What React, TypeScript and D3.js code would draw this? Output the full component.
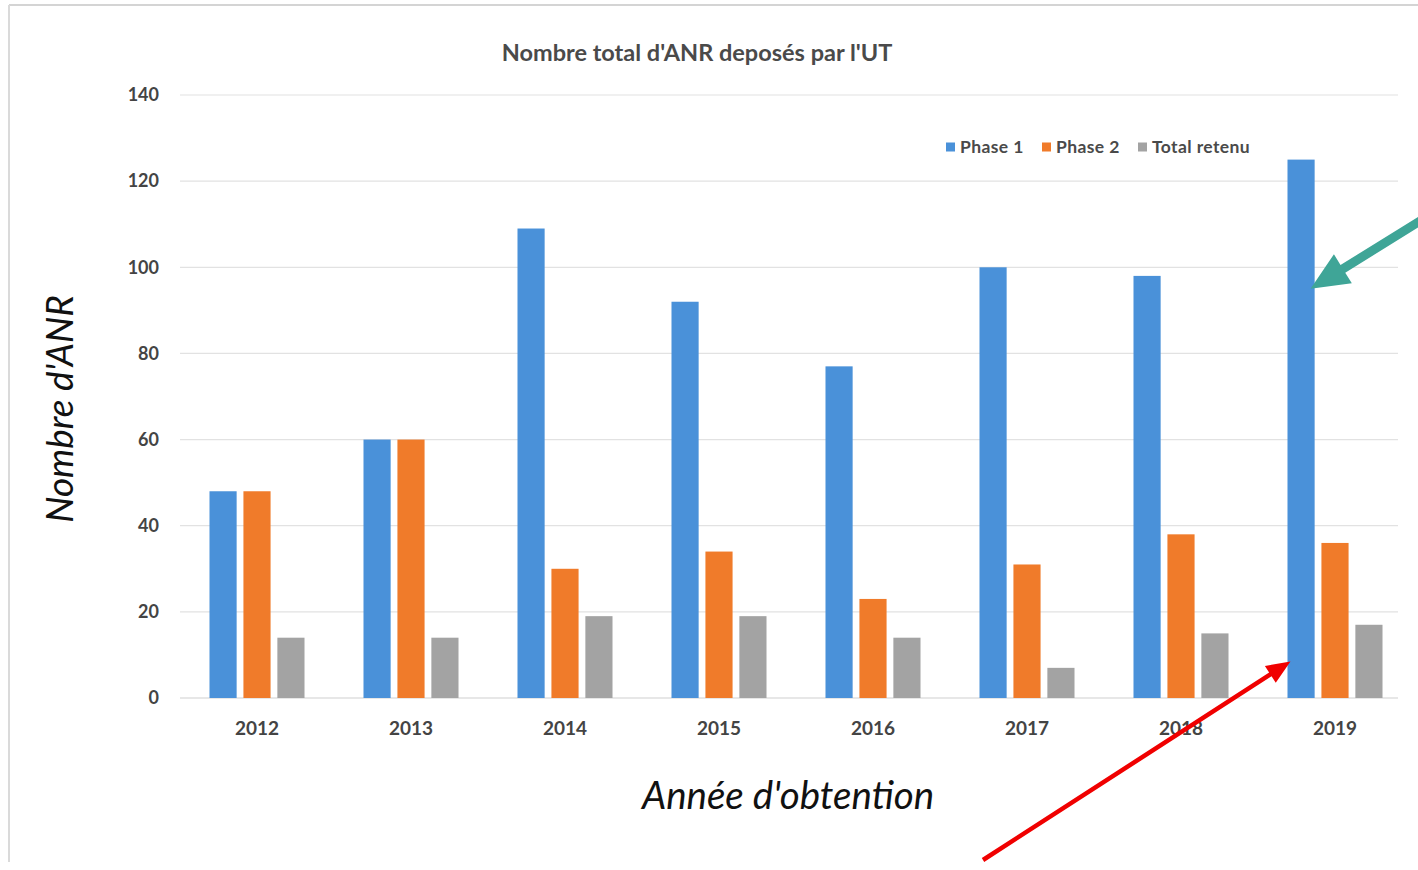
import React from "react";
import * as d3 from "d3";

const years = ["2012", "2013", "2014", "2015", "2016", "2017", "2018", "2019"];
const phase1 = [48, 60, 109, 92, 77, 100, 98, 125];
const phase2 = [48, 60, 30, 34, 23, 31, 38, 36];
const totalRetenu = [14, 14, 19, 19, 14, 7, 15, 17];
const seriesNames = ["Phase 1", "Phase 2", "Total retenu"];
const seriesColors = ["#4a91d9", "#f07b2a", "#a3a3a3"];
const yTicks = [0, 20, 40, 60, 80, 100, 120, 140];

const W = 1418;
const H = 870;
const font = "Lato, 'Open Sans', sans-serif";

function arrowPath(x0: number, y0: number, x1: number, y1: number, shaft: number, headLen: number, headW: number) {
  const dx = x1 - x0;
  const dy = y1 - y0;
  const len = Math.sqrt(dx * dx + dy * dy);
  const ux = dx / len;
  const uy = dy / len;
  const px = -uy;
  const py = ux;
  const bx = x1 - ux * headLen;
  const by = y1 - uy * headLen;
  const pts = [
    [x0 + px * shaft / 2, y0 + py * shaft / 2],
    [bx + px * shaft / 2, by + py * shaft / 2],
    [bx + px * headW / 2, by + py * headW / 2],
    [x1, y1],
    [bx - px * headW / 2, by - py * headW / 2],
    [bx - px * shaft / 2, by - py * shaft / 2],
    [x0 - px * shaft / 2, y0 - py * shaft / 2],
  ];
  return "M" + pts.map((p) => p.join(",")).join("L") + "Z";
}

export default function App() {
  const ref = React.useRef<SVGSVGElement>(null);

  React.useEffect(() => {
    document.body.style.margin = "0";
    const svg = d3.select(ref.current);
    svg.selectAll("*").remove();

    const x = d3.scaleBand().domain(years).range([180, 1412]).paddingInner(0.383).paddingOuter(0.1915);
    const xs = d3.scaleBand().domain(seriesNames).range([0, x.bandwidth()]).paddingInner(0.2);
    const y = d3.scaleLinear().domain([0, 140]).range([698, 95]);

    // frame
    svg.append("line").attr("x1", 9).attr("x2", W).attr("y1", 5).attr("y2", 5)
      .attr("stroke", "#d4d4d4").attr("stroke-width", 2);
    svg.append("line").attr("x1", 9).attr("x2", 9).attr("y1", 5).attr("y2", 862)
      .attr("stroke", "#dadada").attr("stroke-width", 2);

    // grid
    svg.append("g").selectAll("line").data(yTicks).join("line")
      .attr("x1", 180).attr("x2", 1398)
      .attr("y1", (d) => y(d)).attr("y2", (d) => y(d))
      .attr("stroke", (d) => (d === 0 ? "#cfcfcf" : "#e2e2e2")).attr("stroke-width", 1.2);

    svg.append("g").selectAll("text").data(yTicks).join("text")
      .attr("x", 159).attr("y", (d) => y(d)).attr("dy", "0.35em")
      .attr("text-anchor", "end").attr("font-family", font).attr("font-size", 18)
      .attr("font-weight", 700).attr("fill", "#444").text((d) => d);

    svg.append("g").selectAll("text").data(years).join("text")
      .attr("x", (d) => (x(d) as number) + x.bandwidth() / 2).attr("y", 728).attr("dy", "0.35em")
      .attr("text-anchor", "middle").attr("font-family", font).attr("font-size", 19)
      .attr("font-weight", 700).attr("fill", "#444").text((d) => d);

    const series = [phase1, phase2, totalRetenu];
    series.forEach((vals, si) => {
      svg.append("g").selectAll("rect").data(vals).join("rect")
        .attr("x", (_, i) => (x(years[i]) as number) + (xs(seriesNames[si]) as number))
        .attr("width", xs.bandwidth())
        .attr("y", (d) => y(d))
        .attr("height", (d) => y(0) - y(d))
        .attr("fill", seriesColors[si]);
    });

    // title
    svg.append("text").attr("x", 697).attr("y", 53).attr("dy", "0.35em").attr("text-anchor", "middle")
      .attr("font-family", font).attr("font-size", 23.5).attr("font-weight", 700).attr("fill", "#4a4a4a")
      .text("Nombre total d'ANR deposés par l'UT");

    // legend
    const legendX = [946, 1042, 1138];
    const lg = svg.append("g").selectAll("g").data(seriesNames).join("g")
      .attr("transform", (_, i) => `translate(${legendX[i]},147)`);
    lg.append("rect").attr("x", 0).attr("y", -4.5).attr("width", 9).attr("height", 9)
      .attr("fill", (_, i) => seriesColors[i]);
    lg.append("text").attr("x", 14).attr("dy", "0.35em").attr("font-family", font)
      .attr("font-size", 17.5).attr("font-weight", 700).attr("letter-spacing", 0.4)
      .attr("fill", "#4a4a4a").text((d) => d);

    // axis titles
    svg.append("text").attr("transform", "translate(60,409) rotate(-90)").attr("dy", "0.35em")
      .attr("text-anchor", "middle").attr("font-family", font).attr("font-size", 37)
      .attr("font-style", "italic").attr("fill", "#111").text("Nombre d'ANR");
    svg.append("text").attr("x", 788).attr("y", 796).attr("dy", "0.35em")
      .attr("text-anchor", "middle").attr("font-family", font).attr("font-size", 38.5)
      .attr("font-style", "italic").attr("fill", "#111").text("Année d'obtention");

    // annotation arrows pointing to the 2019 Phase 1 bar
    const bx = (x("2019") as number) + (xs("Phase 1") as number);
    svg.append("path")
      .attr("d", arrowPath(1425, 218, bx + xs.bandwidth() * 0.85, y(95), 9, 38, 34))
      .attr("fill", "#3fa597");
    svg.append("path")
      .attr("d", arrowPath(983, 860, bx + 3, y(8.5), 4.5, 24, 20))
      .attr("fill", "#f00000");
  }, []);

  return <svg ref={ref} width={W} height={H} style={{ display: "block", background: "#fff" }} />;
}
